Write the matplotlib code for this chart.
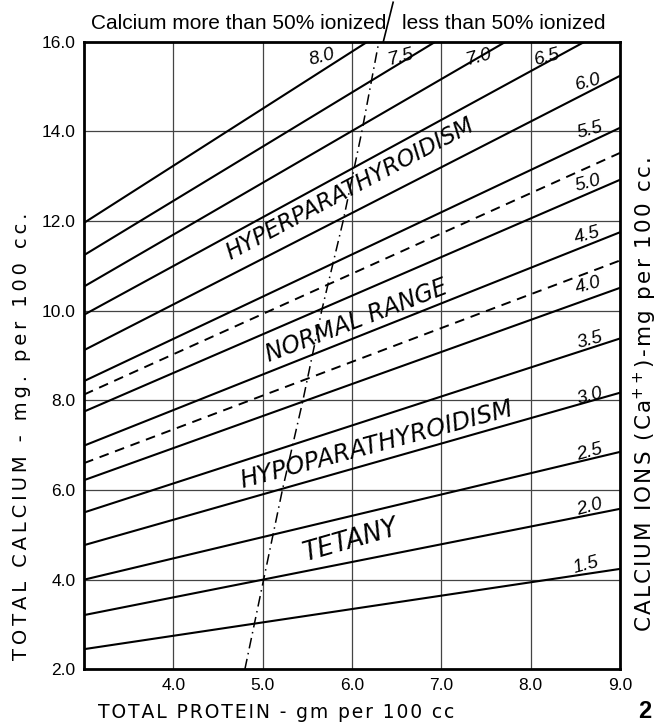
import numpy as np
import matplotlib
matplotlib.use('Agg')
import matplotlib.pyplot as plt

plt.rcParams['font.family'] = ['Liberation Sans', 'DejaVu Sans']

# Ca++ level of each line (mg per 100 cc)
ion_levels = [1.5, 2.0, 2.5, 3.0, 3.5, 4.0, 4.5, 5.0, 5.5, 6.0, 6.5, 7.0, 7.5, 8.0]
# total calcium read where each line meets protein 3.0 and protein 9.0
ca_at_p3 = [2.45, 3.21, 4.00, 4.77, 5.50, 6.22, 6.99, 7.75, 8.43, 9.12, 9.91, 10.54, 11.24, 11.96]
ca_at_p9 = [4.24, 5.58, 6.85, 8.17, 9.38, 10.51, 11.75, 12.92, 14.08, 15.24, 16.43, 17.48, 18.50, 19.60]

# dashed limits of the normal range (at protein 3.0 and 9.0)
normal_low = [6.60, 11.12]
normal_high = [8.13, 13.52]

# 50 % ionized boundary (dash-dot)
half_protein = [4.80, 5.01, 5.22, 5.45, 5.66, 5.90, 6.11, 6.30]
half_calcium = [2.0, 4.0, 6.0, 8.0, 10.0, 12.0, 14.0, 16.0]

# where each Ca++ label sits (protein, total calcium)
label_x = [8.62, 8.66, 8.66, 8.66, 8.66, 8.64, 8.63, 8.64, 8.66, 8.64, 8.19, 7.41, 6.54, 5.66]
label_y = [4.33, 5.62, 6.85, 8.08, 9.35, 10.57, 11.69, 12.85, 14.03, 15.10, 15.66, 15.66, 15.66, 15.66]

regions = ['HYPERPARATHYROIDISM', 'NORMAL RANGE', 'HYPOPARATHYROIDISM', 'TETANY']
region_x = [5.98, 6.05, 6.27, 5.99]
region_y = [12.72, 9.78, 7.00, 4.86]
region_rot = [28, 21, 15, 16]
region_size = [16.5, 17, 17.5, 18.5]

x_ticks = [4, 5, 6, 7, 8, 9]
y_ticks = [2, 4, 6, 8, 10, 12, 14, 16]


def spaced(s, gap='\u2009'):
    # hand lettering is widely spaced
    return gap.join(s)


fig = plt.figure(figsize=(6.62, 7.28), dpi=100)
ax = fig.add_axes([0.127, 0.0806, 0.8096, 0.8621])
ax.set_xlim(3, 9)
ax.set_ylim(2, 16)

# grid
for gx in [4, 5, 6, 7, 8]:
    ax.axvline(gx, color='#444444', lw=0.9, zorder=1)
for gy in [4, 6, 8, 10, 12, 14]:
    ax.axhline(gy, color='#444444', lw=0.9, zorder=1)

# ionized calcium lines
px = [3, 9]
for lev, a, b in zip(ion_levels, ca_at_p3, ca_at_p9):
    ax.plot(px, [a, b], color='black', lw=1.5, zorder=3)

ax.plot(px, normal_low, color='black', lw=1.4, ls=(0, (5, 3.5)), zorder=3)
ax.plot(px, normal_high, color='black', lw=1.4, ls=(0, (5, 3.5)), zorder=3)

ax.plot(half_protein, half_calcium, color='black', lw=1.1,
        ls=(0, (7, 3, 1, 3)), zorder=3)
# slash continuing into the header
ax.plot([6.35, 6.46], [16.0, 16.88], color='black', lw=1.2, clip_on=False)

for lev, lx, ly in zip(ion_levels, label_x, label_y):
    ax.text(lx, ly, f'{lev:.1f}', fontsize=13.5, style='italic',
            rotation=15, ha='center', va='center', zorder=4)

for name, rx, ry, rr, fs in zip(regions, region_x, region_y, region_rot, region_size):
    ax.text(rx, ry, name, fontsize=fs, style='italic', rotation=rr,
            family='DejaVu Sans', ha='center', va='center',
            rotation_mode='anchor', zorder=4)

ax.text(6.38, 16.28, 'Calcium more than 50% ionized', fontsize=15,
        ha='right', va='baseline')
ax.text(6.56, 16.28, 'less than 50% ionized', fontsize=15,
        ha='left', va='baseline')

ax.set_xticks(x_ticks)
ax.set_xticklabels([f'{t:.1f}' for t in x_ticks])
ax.set_yticks(y_ticks)
ax.set_yticklabels([f'{t:.1f}' for t in y_ticks])
ax.tick_params(length=0, labelsize=12.5, pad=6)
for s in ax.spines.values():
    s.set_linewidth(2)
    s.set_zorder(5)

fig.text(98 / 662, 1 - 712 / 728, spaced('TOTAL PROTEIN - gm per 100 cc', '\u200a'),
         fontsize=13.5, family='DejaVu Sans', ha='left', va='center')
fig.text(22 / 662, 1 - 436 / 728, spaced('TOTAL CALCIUM - mg. per 100 cc.'),
         fontsize=14, family='DejaVu Sans', rotation=90, ha='center', va='center')
fig.text(645 / 662, 1 - 395 / 728,
         spaced('CALCIUM IONS (Ca', '\u200a') + '$^{++}$' + spaced(')-mg per 100 cc.', '\u200a'),
         fontsize=15.5, family='DejaVu Sans', rotation=90, ha='center', va='center')
fig.text(645 / 662, 1 - 712 / 728, '2', fontsize=17, fontweight='bold',
         ha='center', va='center')

fig.savefig('out.png', dpi=100)
